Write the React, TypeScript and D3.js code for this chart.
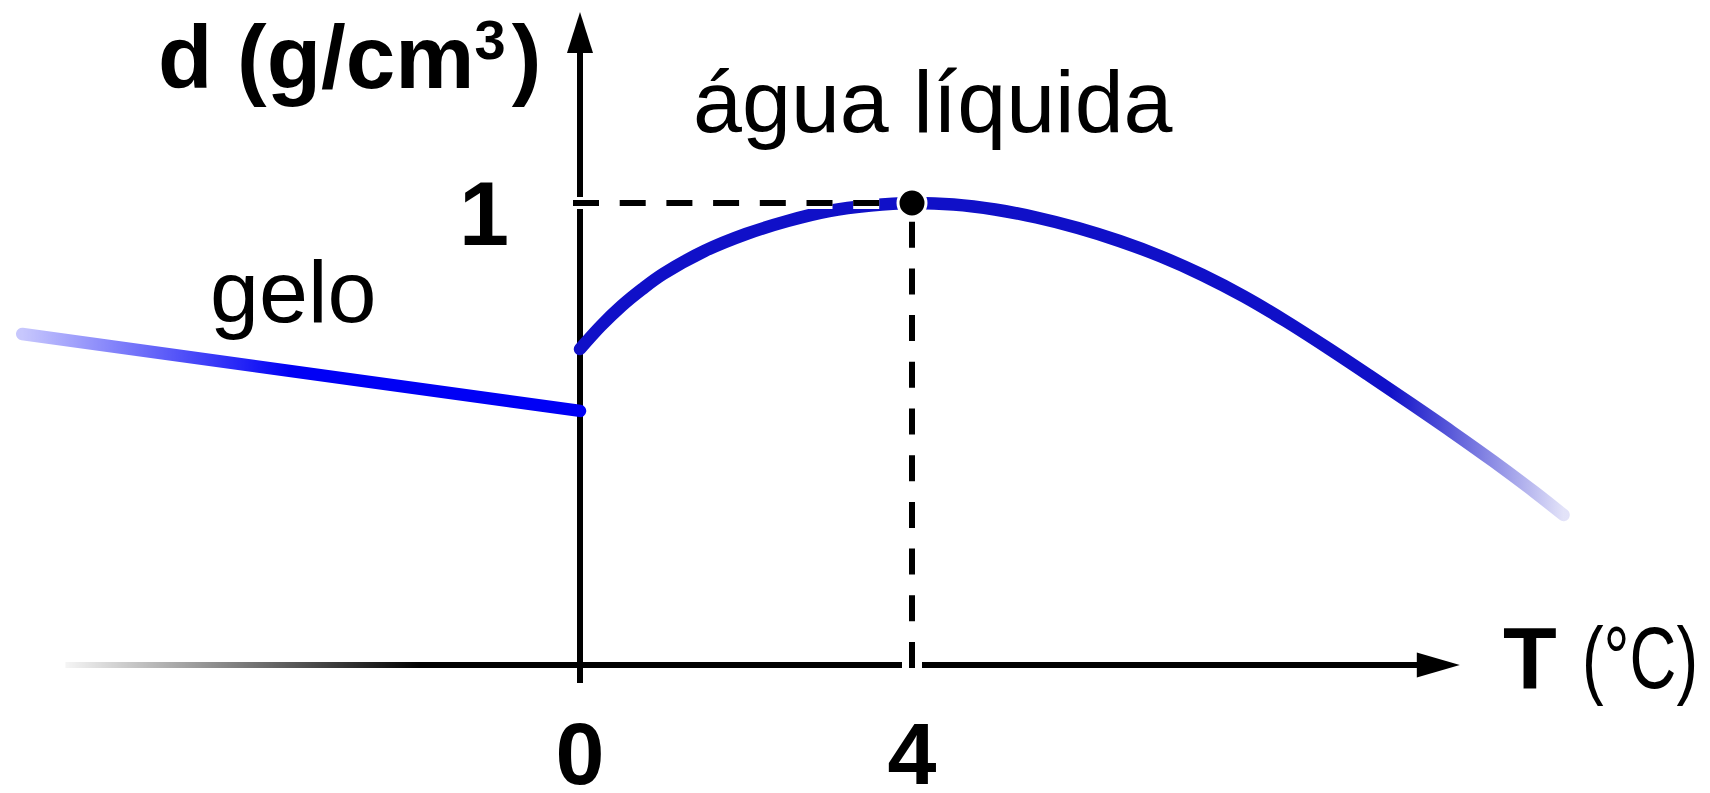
import React from "react";
import * as d3 from "d3";

// ---- data (schematic density curve of water) ----
const iceT = [-6.72, 0];
const iceD = [0.9433, 0.91];

const liquidT = [0, 0.25, 0.5, 0.75, 1.0, 1.5, 2.0, 2.5, 3.0, 3.5, 4.0, 4.5, 5.0, 5.5, 6.0, 6.5, 7.0, 7.5, 8.0, 8.5, 9.0, 9.5, 10.0, 10.5, 11.0, 11.5, 11.85];
const liquidD = [0.9368, 0.94675, 0.95541, 0.96277, 0.96926, 0.97922, 0.98658, 0.99221, 0.99654, 0.99892, 1.0, 0.99935, 0.99719, 0.99372, 0.98918, 0.98355, 0.97684, 0.96883, 0.95952, 0.94892, 0.93745, 0.92554, 0.91342, 0.90108, 0.88831, 0.87489, 0.86494];

const maxPoint = { T: 4, d: 1 };
const xTicks = [0, 4];
const yTicks = [1];

const labelY = "d (g/cm";
const labelYSup = "3";
const labelXBold = "T";
const labelXUnit = "(°C)";
const labelIce = "gelo";
const labelLiquid = "água líquida";

// axis extents (domain units)
const xAxisStart = -6.2;
const xAxisEnd = 10.6;
const yAxisTop = 1.0827;
const yAxisBottom = 0.7922;

export default function App() {
  const W = 1710;
  const H = 793;
  const x = d3.scaleLinear().domain([0, 4]).range([580, 912]);
  const y = d3.scaleLinear().domain([0.8, 1.0]).range([665, 203]);

  const line = d3
    .line<[number, number]>()
    .x((p) => x(p[0]))
    .y((p) => y(p[1]))
    .curve(d3.curveCatmullRom.alpha(0.5));

  const iceData: [number, number][] = iceT.map((t, i) => [t, iceD[i]]);
  const liqData: [number, number][] = liquidT.map((t, i) => [t, liquidD[i]]);

  const x0 = x(0);
  const yBase = y(0.8);
  const px = x(maxPoint.T);
  const py = y(maxPoint.d);
  const xEnd = x(xAxisEnd);
  const yTop = y(yAxisTop);

  const font = "'Liberation Sans', Arial, Helvetica, sans-serif";
  const sw = 6;
  const dash = "26 20.7";
  const curveW = 12.5;

  return (
    <svg
      width={W}
      height={H}
      viewBox={`0 0 ${W} ${H}`}
      style={{ position: "absolute", left: 0, top: 0, background: "#fff" }}
    >
      <defs>
        <linearGradient id="xAxisGrad" gradientUnits="userSpaceOnUse" x1={x(xAxisStart)} y1={0} x2={420} y2={0}>
          <stop offset="0" stopColor="#000" stopOpacity={0.04} />
          <stop offset="1" stopColor="#000" stopOpacity={1} />
        </linearGradient>
        <linearGradient id="iceGrad" gradientUnits="userSpaceOnUse" x1={x(iceT[0])} y1={0} x2={290} y2={0}>
          <stop offset="0" stopColor="#0000f5" stopOpacity={0.22} />
          <stop offset="1" stopColor="#0000f5" stopOpacity={1} />
        </linearGradient>
        <linearGradient id="liqGrad" gradientUnits="userSpaceOnUse" x1={1390} y1={0} x2={x(liquidT[liquidT.length - 1])} y2={0}>
          <stop offset="0" stopColor="#1010c8" stopOpacity={1} />
          <stop offset="1" stopColor="#1010c8" stopOpacity={0.12} />
        </linearGradient>
      </defs>

      {/* x axis */}
      <line x1={x(xAxisStart)} y1={yBase} x2={xEnd - 40} y2={yBase} stroke="url(#xAxisGrad)" strokeWidth={sw} />
      <path d={`M${xEnd},${yBase} L${xEnd - 43},${yBase - 12.5} L${xEnd - 43},${yBase + 12.5} Z`} fill="#000" />

      {/* y axis */}
      <line x1={x0} y1={y(yAxisBottom)} x2={x0} y2={yTop + 40} stroke="#000" strokeWidth={sw} />
      <path d={`M${x0},${yTop} L${x0 - 13},${yTop + 41} L${x0 + 13},${yTop + 41} Z`} fill="#000" />

      {/* curves */}
      <path d={line(iceData) || ""} fill="none" stroke="url(#iceGrad)" strokeWidth={curveW} strokeLinecap="round" />
      <path d={line(liqData) || ""} fill="none" stroke="url(#liqGrad)" strokeWidth={curveW} strokeLinecap="round" />

      {/* halos under guide dashes */}
      <line x1={x0 - 7} y1={py} x2={px} y2={py} stroke="#fff" strokeWidth={12} strokeDasharray={dash} />
      <line x1={px} y1={yBase + 3} x2={px} y2={py} stroke="#fff" strokeWidth={20} strokeDasharray={dash} />

      {/* guide dashes */}
      <line x1={x0 - 7} y1={py} x2={px} y2={py} stroke="#000" strokeWidth={sw} strokeDasharray={dash} />
      <line x1={px} y1={yBase + 3} x2={px} y2={py} stroke="#000" strokeWidth={sw} strokeDasharray={dash} />

      {/* maximum point */}
      <circle cx={px} cy={py} r={14} fill="#000" stroke="#fff" strokeWidth={3} />

      {/* y label */}
      <text x={158} y={88} fontFamily={font} fontWeight="bold" fontSize={89} fill="#000">
        {labelY}
        <tspan fontSize={56} dy={-29}>{labelYSup}</tspan>
        <tspan dx={6} dy={29}>)</tspan>
      </text>

      {/* y tick label */}
      {yTicks.map((v) => (
        <text key={v} x={509} y={y(v) + 42} textAnchor="end" fontFamily={font} fontWeight="bold" fontSize={90} fill="#000">
          {v}
        </text>
      ))}

      {/* x tick labels */}
      {xTicks.map((v) => (
        <text key={v} x={x(v)} y={784} textAnchor="middle" fontFamily={font} fontWeight="bold" fontSize={88} fill="#000">
          {v}
        </text>
      ))}

      {/* x label */}
      <text x={1503} y={688} fontFamily={font} fontWeight="bold" fontSize={88} fill="#000">
        {labelXBold}
      </text>
      <text x={1582} y={688} fontFamily={font} fontSize={88} fill="#000" textLength={116} lengthAdjust="spacingAndGlyphs">
        {labelXUnit}
      </text>

      {/* region labels */}
      <text x={210} y={322} fontFamily={font} fontSize={88} fill="#000">{labelIce}</text>
      <text x={693} y={132} fontFamily={font} fontSize={88} fill="#000">{labelLiquid}</text>
    </svg>
  );
}
